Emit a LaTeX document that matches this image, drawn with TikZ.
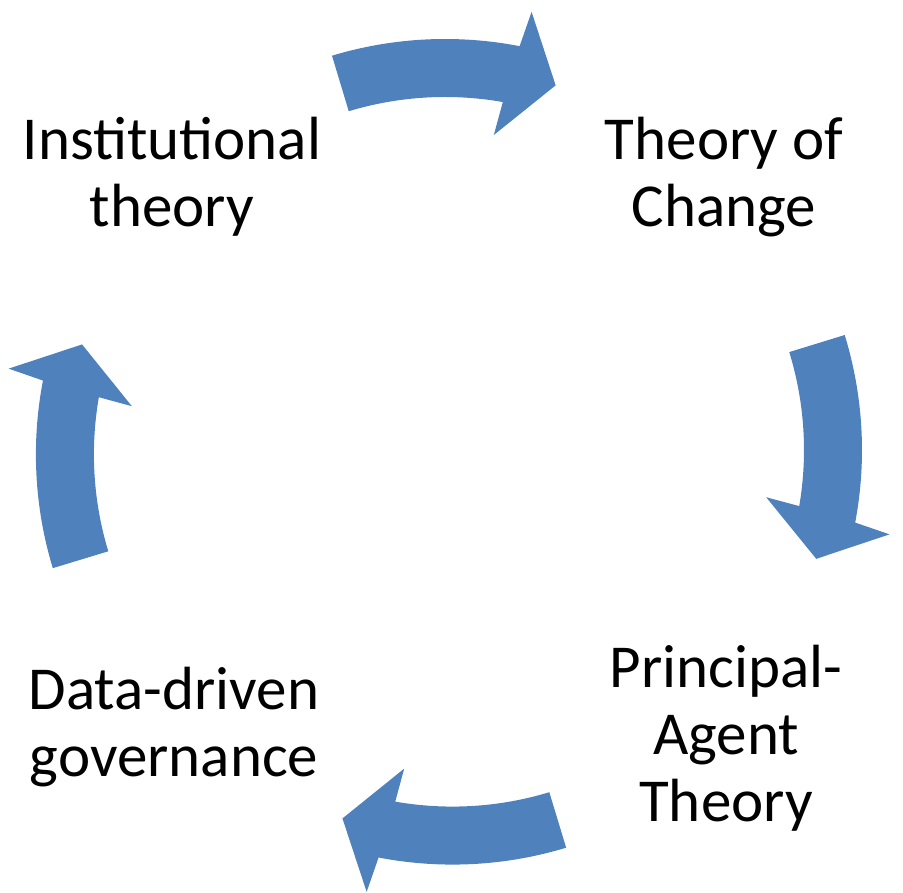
\documentclass[tikz,border=0pt]{standalone}
\usepackage{fontspec}
\setmainfont{Carlito}
\usetikzlibrary{positioning}
\definecolor{arrowblue}{HTML}{4F81BD}

\begin{document}
\begin{tikzpicture}[x=1pt, y=1pt,
  theory/.style={align=center, inner sep=0pt, anchor=base,
    font=\fontsize{61}{67}\selectfont},
  cycarrow/.style={fill=arrowblue, draw=none}]

  \useasboundingbox (0,0) rectangle (903,893);

  % the four theories (base = last line)
  \node[theory] (inst)   at (172,666.3) {Institutional\\theory};
  \node[theory] (change) at (724,666.3) {Theory of\\Change};
  \node[theory] (agent)  at (726,71)    {Principal-\\Agent\\Theory};
  \node[theory] (data)   at (174,116.3) {Data-driven\\governance};

  % curved arrows between them (centre x / centre y / tail angle)
  \foreach \cx/\cy/\a in {445/463/106.8, 471/443/17.1, 452.5/419.4/-73.1, 426.9/438.5/-163.1} {
    \coordinate (c) at (\cx,\cy);
    \fill[cycarrow] ([shift={(\a:391)}]c)
      arc[start angle=\a, end angle=\a-27.8, radius=391]
      -- ([shift={({\a-28.5}:427)}]c)
      -- ([shift={({\a-34.6}:362)}]c)
      -- ([shift={({\a-26.2}:299)}]c)
      -- ([shift={({\a-26.8}:333)}]c)
      arc[start angle=\a-26.8, end angle=\a, radius=333]
      -- cycle;
  }
\end{tikzpicture}
\end{document}
